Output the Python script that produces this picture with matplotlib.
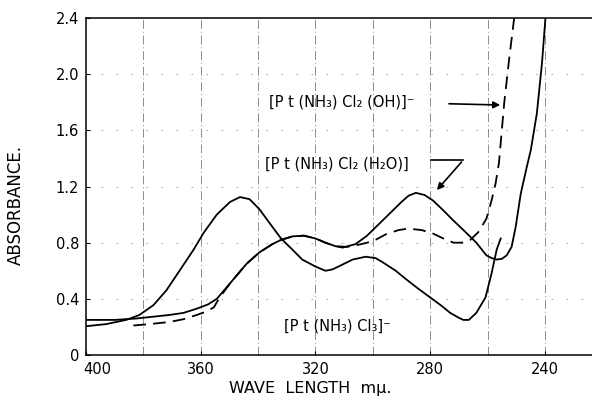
import matplotlib
matplotlib.use("Agg")
import matplotlib.pyplot as plt
import matplotlib.transforms as mtransforms

# [Pt(NH3)Cl3]- , solid, big band near 345
cl3_wl = [400, 393, 386, 381.4, 376.5, 372, 367.4, 362.5, 359, 354.4, 349.8,
          346.3, 343, 339.6, 336, 332, 328, 324.6, 320, 316.5, 314, 310, 307,
          302.5, 299, 296.5, 292, 288.4, 284, 280, 276, 273, 270, 268.4, 266.5,
          263.9, 260.7, 258.6, 256.8, 255.4]
cl3_abs = [0.205, 0.22, 0.25, 0.285, 0.355, 0.46, 0.60, 0.75, 0.87, 1.00, 1.09,
           1.125, 1.11, 1.04, 0.94, 0.83, 0.75, 0.68, 0.63, 0.60, 0.61, 0.65, 0.68,
           0.70, 0.69, 0.66, 0.60, 0.54, 0.47, 0.41, 0.35, 0.30, 0.265, 0.25, 0.25,
           0.30, 0.41, 0.58, 0.75, 0.83]

# [Pt(NH3)Cl2(H2O)] , solid
h2o_wl = [400, 390, 382.5, 371, 366, 361.4, 357.5, 354.4, 349.8, 344, 339.6, 335,
          332, 328, 324, 320, 316.5, 313, 310.5, 306, 302, 298, 294, 290, 287.5,
          285, 282, 279, 275.4, 272, 268.4, 263.9, 260.4, 258.5, 256.8, 255,
          253.3, 251.6, 250.2, 248.4, 246.3, 244.9, 242.8, 241, 239.8]
h2o_abs = [0.25, 0.25, 0.26, 0.285, 0.30, 0.33, 0.36, 0.40, 0.51, 0.65, 0.73, 0.79,
           0.82, 0.845, 0.85, 0.83, 0.80, 0.775, 0.765, 0.79, 0.85, 0.93, 1.01, 1.09,
           1.135, 1.155, 1.14, 1.10, 1.03, 0.96, 0.89, 0.80, 0.71, 0.69, 0.68, 0.685,
           0.71, 0.77, 0.91, 1.15, 1.34, 1.46, 1.72, 2.08, 2.40]

# [Pt(NH3)Cl2(OH)]- , dashed
oh_wl = [383.5, 378, 371, 366, 361.4, 358, 355.4, 353.7, 349.8, 344, 339.6, 335,
         332, 328, 324, 320, 316.5, 313, 309, 305, 300, 295.4, 291, 287.7, 283,
         279, 275.4, 271.9, 269, 266, 263.2, 260.4, 258.6, 257.2, 256, 254.2,
         252.5, 250.7]
oh_abs = [0.21, 0.22, 0.235, 0.255, 0.285, 0.31, 0.34, 0.40, 0.51, 0.65, 0.73, 0.79,
          0.82, 0.845, 0.85, 0.83, 0.80, 0.775, 0.77, 0.785, 0.81, 0.86, 0.89, 0.90,
          0.89, 0.865, 0.83, 0.80, 0.80, 0.82, 0.875, 0.97, 1.10, 1.22, 1.37, 1.79,
          2.10, 2.40]

x_ticks = [400, 360, 320, 280, 240]
x_grid = [380, 360, 340, 320, 300, 280, 260, 240]
y_ticks = [0, 0.4, 0.8, 1.2, 1.6, 2.0, 2.4]
y_tick_labels = ["0", "0.4", "0.8", "1.2", "1.6", "2.0", "2.4"]


def make_axes():
    fig = plt.figure(figsize=(5.92, 4.01), dpi=100)
    ax = fig.add_axes([0.1453, 0.1147, 0.8647, 0.8403])

    ax.set_xlim(400, 221.5)
    ax.set_ylim(0, 2.4)
    ax.spines["right"].set_visible(False)
    for s in ["top", "bottom", "left"]:
        ax.spines[s].set_linewidth(1.1)

    ax.set_xticks(x_ticks)
    ax.set_xticklabels([str(t) for t in x_ticks])
    ax.set_yticks(y_ticks)
    ax.set_yticklabels(y_tick_labels)
    ax.tick_params(direction="in", length=3, labelsize=10.5, pad=5)

    # the first x label sits a bit to the right of the corner in the original
    shift = mtransforms.ScaledTranslation(11 / 100, 0, fig.dpi_scale_trans)
    first = ax.get_xticklabels()[0]
    first.set_transform(first.get_transform() + shift)

    # grid of the old chart paper
    for g in x_grid:
        ax.axvline(g, color="0.55", lw=0.7, ls=(0, (9, 3, 1, 3)), zorder=0)
    for g in y_ticks[1:-1]:
        ax.axhline(g, color="0.6", lw=0.6, ls=(0, (2, 16)), zorder=0)

    ax.set_xlabel("WAVE  LENGTH  m\u03bc.", fontsize=11.5)
    ax.xaxis.set_label_coords(0.4375, -0.078)
    ax.set_ylabel("ABSORBANCE.", fontsize=12)
    ax.yaxis.set_label_coords(-0.12, 0.445)
    return fig, ax


fig, ax = make_axes()

ax.plot(cl3_wl, cl3_abs, color="black", lw=1.3)
ax.plot(h2o_wl, h2o_abs, color="black", lw=1.3)
ax.plot(oh_wl, oh_abs, color="black", lw=1.3, ls=(0, (7, 4)))

txt = dict(fontsize=10.5, color="black", va="center", ha="left")
ax.text(336.3, 1.80, "[P t (NH\u2083) Cl\u2082 (OH)]\u207b", **txt)
ax.text(337.6, 1.36, "[P t (NH\u2083) Cl\u2082 (H\u2082O)]", **txt)
ax.text(331.0, 0.21, "[P t (NH\u2083) Cl\u2083]\u207b", **txt)

# arrow to the dashed curve
ax.annotate("", xy=(254.6, 1.78), xytext=(274.4, 1.79),
            arrowprops=dict(arrowstyle="-|>", color="black", lw=1.2,
                            mutation_scale=10))
# bent arrow to the H2O curve peak
ax.plot([279.6, 268.4], [1.39, 1.39], color="black", lw=1.2)
ax.annotate("", xy=(278.3, 1.16), xytext=(268.4, 1.39),
            arrowprops=dict(arrowstyle="-|>", color="black", lw=1.2,
                            mutation_scale=10))

fig.savefig("out.png", dpi=100)
plt.close(fig)
